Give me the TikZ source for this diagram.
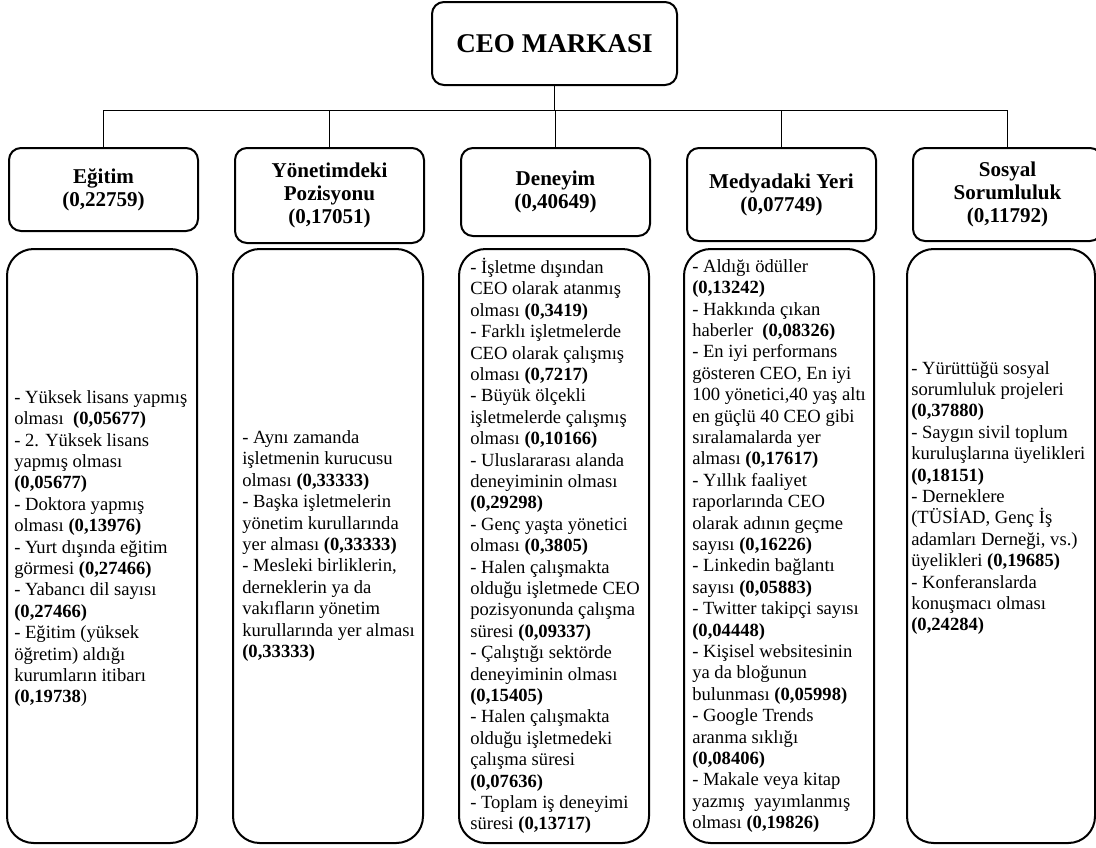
\documentclass[tikz,border=0pt]{standalone}
\usepackage{fontspec}
\setmainfont{Liberation Serif}
\usetikzlibrary{positioning}

\begin{document}
\begin{tikzpicture}[x=0.75pt, y=-0.75pt, node distance=26.25pt]
		\tikzstyle{root}=[draw=black, line width=1.5pt, rounded corners=9pt, minimum width=183.75pt, minimum height=62.25pt, font=\fontsize{20.3}{24}\selectfont\bfseries]
		\tikzstyle{factor}=[draw=black, line width=1.5pt, rounded corners=9pt, minimum width=141.75pt, align=center, inner sep=0pt, font=\fontsize{15.8}{17.3}\selectfont\bfseries]
		\tikzstyle{list}=[draw=black, line width=1.5pt, rounded corners=20pt, minimum width=142.5pt, minimum height=445.5pt, anchor=north]
		\tikzstyle{items}=[anchor=west, align=left, inner sep=0pt, font=\fontsize{13.95}{16.05}\selectfont]
		\tikzstyle{link}=[line width=1pt]
		\useasboundingbox (0,0) rectangle (1096,847);
		\node[root]    (ceo) at (554.5,43.5) {CEO MARKASI};
		\node[factor, minimum height=62.25pt]   (egitim) [anchor=north] at (103.5,147) {E\u{g}itim\\(0,22759)};
		\node[factor, minimum height=71.25pt]   (yonetim)[right = of egitim.north east, anchor=north west] {Yönetimdeki\\Pozisyonu\\(0,17051)};
		\node[factor, minimum height=66pt]      (deneyim)[right = of yonetim.north east, anchor=north west] {Deneyim\\(0,40649)};
		\node[factor, minimum height=69.75pt]   (medya)  [right = of deneyim.north east, anchor=north west] {Medyadaki Yeri\\(0,07749)};
		\node[factor, minimum height=69.75pt]   (sosyal) [right = of medya.north east, anchor=north west] {Sosyal\\Sorumluluk\\(0,11792)};
		\coordinate (bar) at (ceo.south |- 0,110.7);
		\draw[link] (ceo.south) -- (bar);
		\foreach \n in {egitim,yonetim,deneyim,medya,sosyal}
			\draw[link] (bar) -| (\n.north);
		\node[list] (egitimlist)  at (102,248) {};
		\node[list] (yonetimlist) at (328,248) {};
		\node[list] (deneyimlist) at (554,248) {};
		\node[list] (medyalist)   at (779,248) {};
		\node[list, minimum width=141pt] (sosyallist) at (1001,248) {};
		\node[items] (egitimtext) at ([xshift=6pt, yshift=-2pt]egitimlist.west)
			{- Yüksek lisans yapmış\\olması \ \textbf{(0,05677)}\\- 2. Yüksek lisans\\yapmış olması\\\textbf{(0,05677)}\\- Doktora yapmış\\olması \textbf{(0,13976)}\\- Yurt dışında eğitim\\görmesi \textbf{(0,27466)}\\- Yabancı dil sayısı\\\textbf{(0,27466)}\\- Eğitim (yüksek\\öğretim) aldığı\\kurumların itibarı\\\textbf{(0,19738})};
		\node[items] (yonetimtext) at ([xshift=7.5pt]yonetimlist.west)
			{- Aynı zamanda\\işletmenin kurucusu\\olması \textbf{(0,33333)}\\- Başka işletmelerin\\yönetim kurullarında\\yer alması \textbf{(0,33333)}\\- Mesleki birliklerin,\\derneklerin ya da\\vakıfların yönetim\\kurullarında yer alması\\\textbf{(0,33333)}};
		\node[items] (deneyimtext) at ([xshift=9pt]deneyimlist.west)
			{- İşletme dışından\\CEO olarak atanmış\\olması \textbf{(0,3419)}\\- Farklı işletmelerde\\CEO olarak çalışmış\\olması \textbf{(0,7217)}\\- Büyük ölçekli\\işletmelerde çalışmış\\olması \textbf{(0,10166)}\\- Uluslararası alanda\\deneyiminin olması\\\textbf{(0,29298)}\\- Genç yaşta yönetici\\olması \textbf{(0,3805)}\\- Halen çalışmakta\\olduğu işletmede CEO\\pozisyonunda çalışma\\süresi \textbf{(0,09337)}\\- Çalıştığı sektörde\\deneyiminin olması\\\textbf{(0,15405)}\\- Halen çalışmakta\\olduğu işletmedeki\\çalışma süresi\\\textbf{(0,07636)}\\- Toplam iş deneyimi\\süresi \textbf{(0,13717)}};
		\node[items] (medyatext) at ([xshift=6.75pt]medyalist.west)
			{- Aldığı ödüller\\\textbf{(0,13242)}\\- Hakkında çıkan\\haberler \ \textbf{(0,08326)}\\- En iyi performans\\gösteren CEO, En iyi\\100 yönetici,40 yaş altı\\en güçlü 40 CEO gibi\\sıralamalarda yer\\alması \textbf{(0,17617)}\\- Yıllık faaliyet\\raporlarında CEO\\olarak adının geçme\\sayısı \textbf{(0,16226)}\\- Linkedin bağlantı\\sayısı \textbf{(0,05883)}\\- Twitter takipçi sayısı\\\textbf{(0,04448)}\\- Kişisel websitesinin\\ya da bloğunun\\bulunması \textbf{(0,05998)}\\- Google Trends\\aranma sıklığı\\\textbf{(0,08406)}\\- Makale veya kitap\\yazmış \ yayımlanmış\\olması \textbf{(0,19826)}};
		\node[items] (sosyaltext) at ([xshift=3.75pt, yshift=36pt]sosyallist.west)
			{- Yürüttüğü sosyal\\sorumluluk projeleri\\\textbf{(0,37880)}\\- Saygın sivil toplum\\kuruluşlarına üyelikleri\\\textbf{(0,18151)}\\- Derneklere\\(TÜSİAD, Genç İş\\adamları Derneği, vs.)\\üyelikleri \textbf{(0,19685)}\\- Konferanslarda\\konuşmacı olması\\\textbf{(0,24284)}};
	\end{tikzpicture}
\end{document}
